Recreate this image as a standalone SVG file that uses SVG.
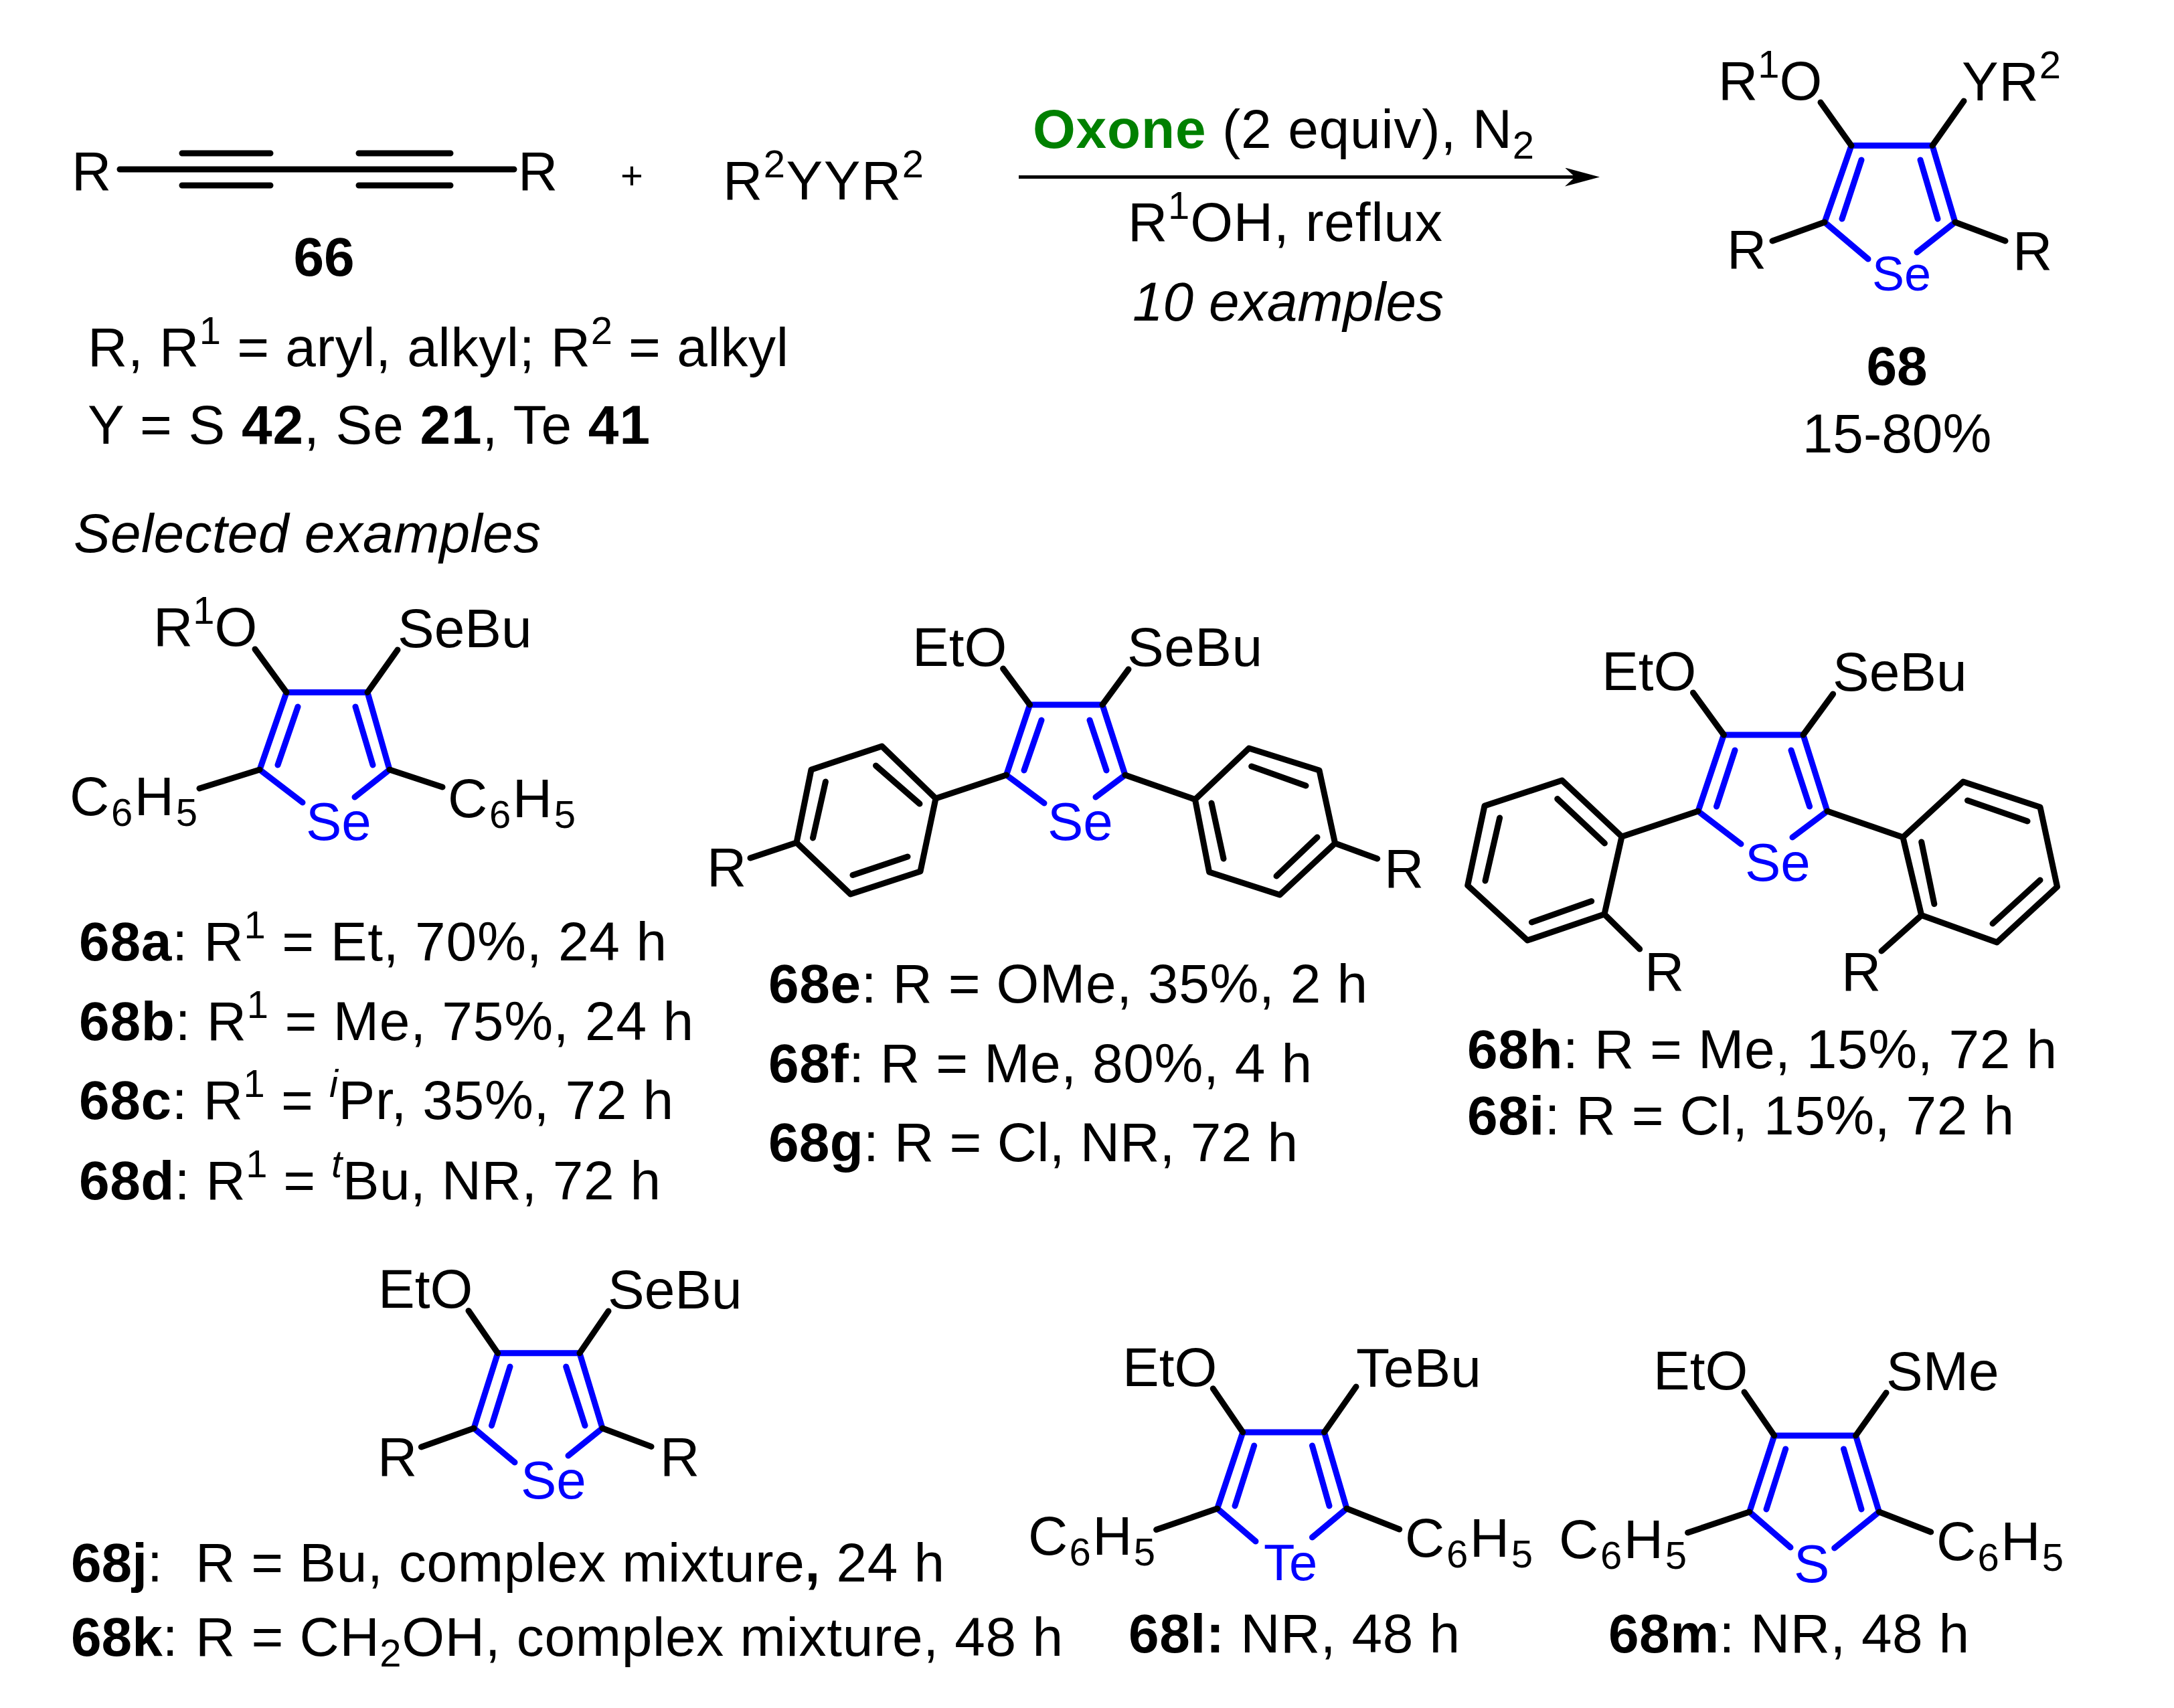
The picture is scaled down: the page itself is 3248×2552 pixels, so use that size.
<svg xmlns="http://www.w3.org/2000/svg" width="3248" height="2552" viewBox="0 0 3248 2552">
<style>
text{font-family:"Liberation Sans",Arial,sans-serif;font-size:82px;fill:#000}
.bl{fill:#0000ff}
.b{font-weight:bold}
.i{font-style:italic}
.s{font-size:58px}
.g{fill:#008000;font-weight:bold}
.a{font-size:80px}
.k,.u{fill:none;stroke-width:9;stroke-linecap:round;stroke-linejoin:round}
.k{stroke:#000}
.u{stroke:#0000ff}
</style>
<defs>
<marker id="ah" markerUnits="userSpaceOnUse" markerWidth="52" markerHeight="28" refX="15" refY="14" orient="auto"><path d="M0,0L52,14L0,28L15,14Z" fill="#000"/></marker>
</defs>
<rect width="3248" height="2552" fill="#fff"/>

<g id="reagent-66">
<path class="k" d="M179,253H768M272,229H404M272,277H404M536,229H673M536,277H673"/>
<text x="107" y="284">R</text>
<text x="774" y="284">R</text>
<text x="484" y="412" text-anchor="middle" class="b">66</text>
</g>
<g id="plus"><text x="944" y="282" text-anchor="middle" style="font-size:58px">+</text></g>
<g id="reagent-dichalcogenide"><text x="1080" y="298" textLength="300">R<tspan class="s" dy="-33">2</tspan><tspan dy="33">YYR</tspan><tspan class="s" dy="-33">2</tspan></text></g>
<g id="conditions-legend">
<text x="131" y="547" textLength="1047">R, R<tspan class="s" dy="-33">1</tspan><tspan dy="33"> = aryl, alkyl; R</tspan><tspan class="s" dy="-33">2</tspan><tspan dy="33"> = alkyl</tspan></text>
<text x="131" y="663" textLength="840">Y = S <tspan class="b">42</tspan>, Se <tspan class="b">21</tspan>, Te <tspan class="b">41</tspan></text>
<text x="110" y="825" class="i" textLength="698">Selected examples</text>
</g>

<g id="connectors">
<path d="M1522,264.500H2353" stroke="#000" stroke-width="5" fill="none" marker-end="url(#ah)"/>
</g>
<g id="reaction-conditions">
<text x="1543" y="221" textLength="749"><tspan class="g">Oxone</tspan> (2 equiv), N<tspan class="s" dy="16">2</tspan></text>
<text x="1685" y="360" textLength="470">R<tspan class="s" dy="-33">1</tspan><tspan dy="33">OH, reflux</tspan></text>
<text x="1692" y="479" class="i" textLength="465">10 examples</text>
</g>

<g id="product-68">
<path class="u" d="M2726,332L2766,217.600H2887L2921,332M2781,239L2752,327M2869,239L2895,327M2726,332L2791,387M2921,332L2864,377"/>
<path class="k" d="M2766,217.600L2720,153M2887,217.600L2934,151M2726,332L2648,360M2921,332L2996,360"/>
<text x="2567" y="149">R<tspan class="s" dy="-33">1</tspan><tspan dy="33">O</tspan></text>
<text x="2931" y="150" textLength="148">YR<tspan class="s" dy="-33">2</tspan></text>
<text x="2580" y="401">R</text>
<text x="3007" y="403">R</text>
<text x="2797" y="434" class="bl" style="font-size:72px">Se</text>
<text x="2834" y="575" text-anchor="middle" class="b">68</text>
<text x="2834" y="676" text-anchor="middle">15-80%</text>
</g>

<g id="compound-68a-d">
<path class="u" d="M388,1150L428,1034.500H549L582,1150M445,1056L415,1143M531,1056L557,1143M388,1150L452,1199M582,1150L530,1191"/>
<path class="k" d="M428,1034.500L381,970M549,1034.500L594,971M388,1150L298,1178M582,1150L661,1176"/>
<text x="229" y="965">R<tspan class="s" dy="-33">1</tspan><tspan dy="33">O</tspan></text>
<text x="594" y="967">SeBu</text>
<text x="104" y="1218" textLength="191">C<tspan class="s" dy="16">6</tspan><tspan dy="-16">H</tspan><tspan class="s" dy="16">5</tspan></text>
<text x="669" y="1221" textLength="191">C<tspan class="s" dy="16">6</tspan><tspan dy="-16">H</tspan><tspan class="s" dy="16">5</tspan></text>
<text x="457" y="1255" class="bl a">Se</text>
</g>
<g id="labels-68a-d">
<text x="118" y="1435" textLength="878"><tspan class="b">68a</tspan>: R<tspan class="s" dy="-33">1</tspan><tspan dy="33"> = Et, 70%, 24 h</tspan></text>
<text x="118" y="1554" textLength="918"><tspan class="b">68b</tspan>: R<tspan class="s" dy="-33">1</tspan><tspan dy="33"> = Me, 75%, 24 h</tspan></text>
<text x="118" y="1672" textLength="888"><tspan class="b">68c</tspan>: R<tspan class="s" dy="-33">1</tspan><tspan dy="33"> = </tspan><tspan class="s i" dy="-33">i</tspan><tspan dy="33">Pr, 35%, 72 h</tspan></text>
<text x="118" y="1792" textLength="869"><tspan class="b">68d</tspan>: R<tspan class="s" dy="-33">1</tspan><tspan dy="33"> = </tspan><tspan class="s i" dy="-33">t</tspan><tspan dy="33">Bu, NR, 72 h</tspan></text>
</g>

<g id="compound-68e-g">
<path class="u" d="M1503.500,1158L1538.600,1053H1647L1681,1158M1556,1076L1530,1151M1628,1076L1653,1151M1503.500,1158L1560,1200M1681,1158L1637,1191"/>
<path class="k" d="M1538.600,1053L1498.600,999M1647,1053L1686,1000M1503.500,1158L1398,1193L1317.600,1115L1212,1150L1190,1259L1270.600,1336L1375,1302L1398,1193M1308.500,1144L1374,1201M1233.400,1168L1214.500,1252M1274,1307.500L1356,1280M1190,1259L1121,1282"/>
<path class="k" d="M1681,1158L1785.500,1194.500L1866,1118L1971,1151L1994.600,1260L1912,1337L1806.600,1303L1785.500,1194.500M1869.700,1145L1951,1174M1810,1200L1828,1283M1907,1309L1968,1251M1994.600,1260L2057.700,1283"/>
<text x="1363" y="995">EtO</text>
<text x="1684" y="995" textLength="202">SeBu</text>
<text x="1056" y="1324">R</text>
<text x="2068" y="1326">R</text>
<text x="1565" y="1255" class="bl a">Se</text>
</g>
<g id="labels-68e-g">
<text x="1148" y="1498" textLength="895"><tspan class="b">68e</tspan>: R = OMe, 35%, 2 h</text>
<text x="1148" y="1617" textLength="812"><tspan class="b">68f</tspan>: R = Me, 80%, 4 h</text>
<text x="1148" y="1735" textLength="791"><tspan class="b">68g</tspan>: R = Cl, NR, 72 h</text>
</g>

<g id="compound-68h-i">
<path class="u" d="M2537,1212L2575.400,1098H2694L2730,1212M2592,1121L2564.500,1205M2676,1121L2703.600,1205M2537,1212L2601,1261M2730,1212L2678,1251"/>
<path class="k" d="M2575.400,1098L2529.500,1035M2694,1098L2738.600,1037M2537,1212L2423,1250L2333.700,1166L2218,1204L2192.700,1323L2282,1405L2397,1366L2423,1250M2326.700,1193.600L2397.400,1260M2240.600,1222L2219,1316M2288.400,1378L2377.700,1346.600M2397,1366L2449.700,1418"/>
<path class="k" d="M2730,1212L2843,1251L2933,1168L3048,1206L3073.500,1325L2983.500,1408L2870.700,1367.600L2843,1251M2939.500,1196L3029,1227M2870.700,1258L2889.800,1350.700M2977,1380L3048,1315M2870.700,1367.600L2811,1421"/>
<text x="2393" y="1031">EtO</text>
<text x="2738" y="1032">SeBu</text>
<text x="2457" y="1480">R</text>
<text x="2751" y="1480">R</text>
<text x="2607" y="1316" class="bl a">Se</text>
</g>
<g id="labels-68h-i">
<text x="2192" y="1596" textLength="881"><tspan class="b">68h</tspan>: R = Me, 15%, 72 h</text>
<text x="2192" y="1695" textLength="817"><tspan class="b">68i</tspan>: R = Cl, 15%, 72 h</text>
</g>

<g id="compound-68j-k">
<path class="u" d="M708,2134L743.700,2021.800H866L900,2134M762,2042L734.500,2130M845.700,2042L874,2130M708,2134L769,2185M900,2134L849,2175"/>
<path class="k" d="M743.700,2021.800L700,1958.400M866,2021.800L909,1959M708,2134L629.400,2162M900,2134L973,2161.400"/>
<text x="565" y="1954">EtO</text>
<text x="908" y="1955">SeBu</text>
<text x="564" y="2205">R</text>
<text x="986" y="2205">R</text>
<text x="778" y="2239" class="bl a">Se</text>
</g>
<g id="labels-68j-k">
<text x="106" y="2363"><tspan class="b">68j</tspan>:</text>
<text x="292" y="2363" textLength="1119">R = Bu, complex mixture<tspan class="b">,</tspan> 24 h</text>
<text x="106" y="2474"><tspan class="b">68k</tspan>:</text>
<text x="292" y="2474" textLength="1296">R = CH<tspan class="s" dy="16">2</tspan><tspan dy="-16">OH, complex mixture, 48 h</tspan></text>
</g>

<g id="compound-68l">
<path class="u" d="M1818.700,2254L1856.800,2140H1978.500L2012,2254M1873.700,2160L1845,2250M1960.500,2160L1986,2250M1818.700,2254L1876,2303M2012,2254L1960.500,2297"/>
<path class="k" d="M1856.800,2140L1812.300,2074.700M1978.500,2140L2026,2072M1818.700,2254L1727.600,2285.600M2012,2254L2090.700,2285"/>
<text x="1677" y="2071">EtO</text>
<text x="2026" y="2072">TeBu</text>
<text x="1536" y="2323" textLength="190">C<tspan class="s" dy="16">6</tspan><tspan dy="-16">H</tspan><tspan class="s" dy="16">5</tspan></text>
<text x="2099" y="2326" textLength="191">C<tspan class="s" dy="16">6</tspan><tspan dy="-16">H</tspan><tspan class="s" dy="16">5</tspan></text>
<text x="1888" y="2361" class="bl" style="font-size:76px">Te</text>
<text x="1686" y="2469" textLength="495"><tspan class="b">68l:</tspan> NR, 48 h</text>
</g>

<g id="compound-68m">
<path class="u" d="M2613.700,2259L2650.800,2145H2772.500L2807.400,2259M2667.700,2165L2639,2255M2754.500,2165L2781,2255M2613.700,2259L2675,2312M2807.400,2259L2740.700,2313"/>
<path class="k" d="M2650.800,2145L2606,2080M2772.500,2145L2818,2081M2613.700,2259L2521.600,2290M2807.400,2259L2884.700,2289"/>
<text x="2470" y="2076">EtO</text>
<text x="2818" y="2077">SMe</text>
<text x="2329" y="2328" textLength="191">C<tspan class="s" dy="16">6</tspan><tspan dy="-16">H</tspan><tspan class="s" dy="16">5</tspan></text>
<text x="2893" y="2331" textLength="190">C<tspan class="s" dy="16">6</tspan><tspan dy="-16">H</tspan><tspan class="s" dy="16">5</tspan></text>
<text x="2680" y="2364" class="bl a">S</text>
<text x="2403" y="2469" textLength="539"><tspan class="b">68m</tspan>: NR, 48 h</text>
</g>
</svg>
